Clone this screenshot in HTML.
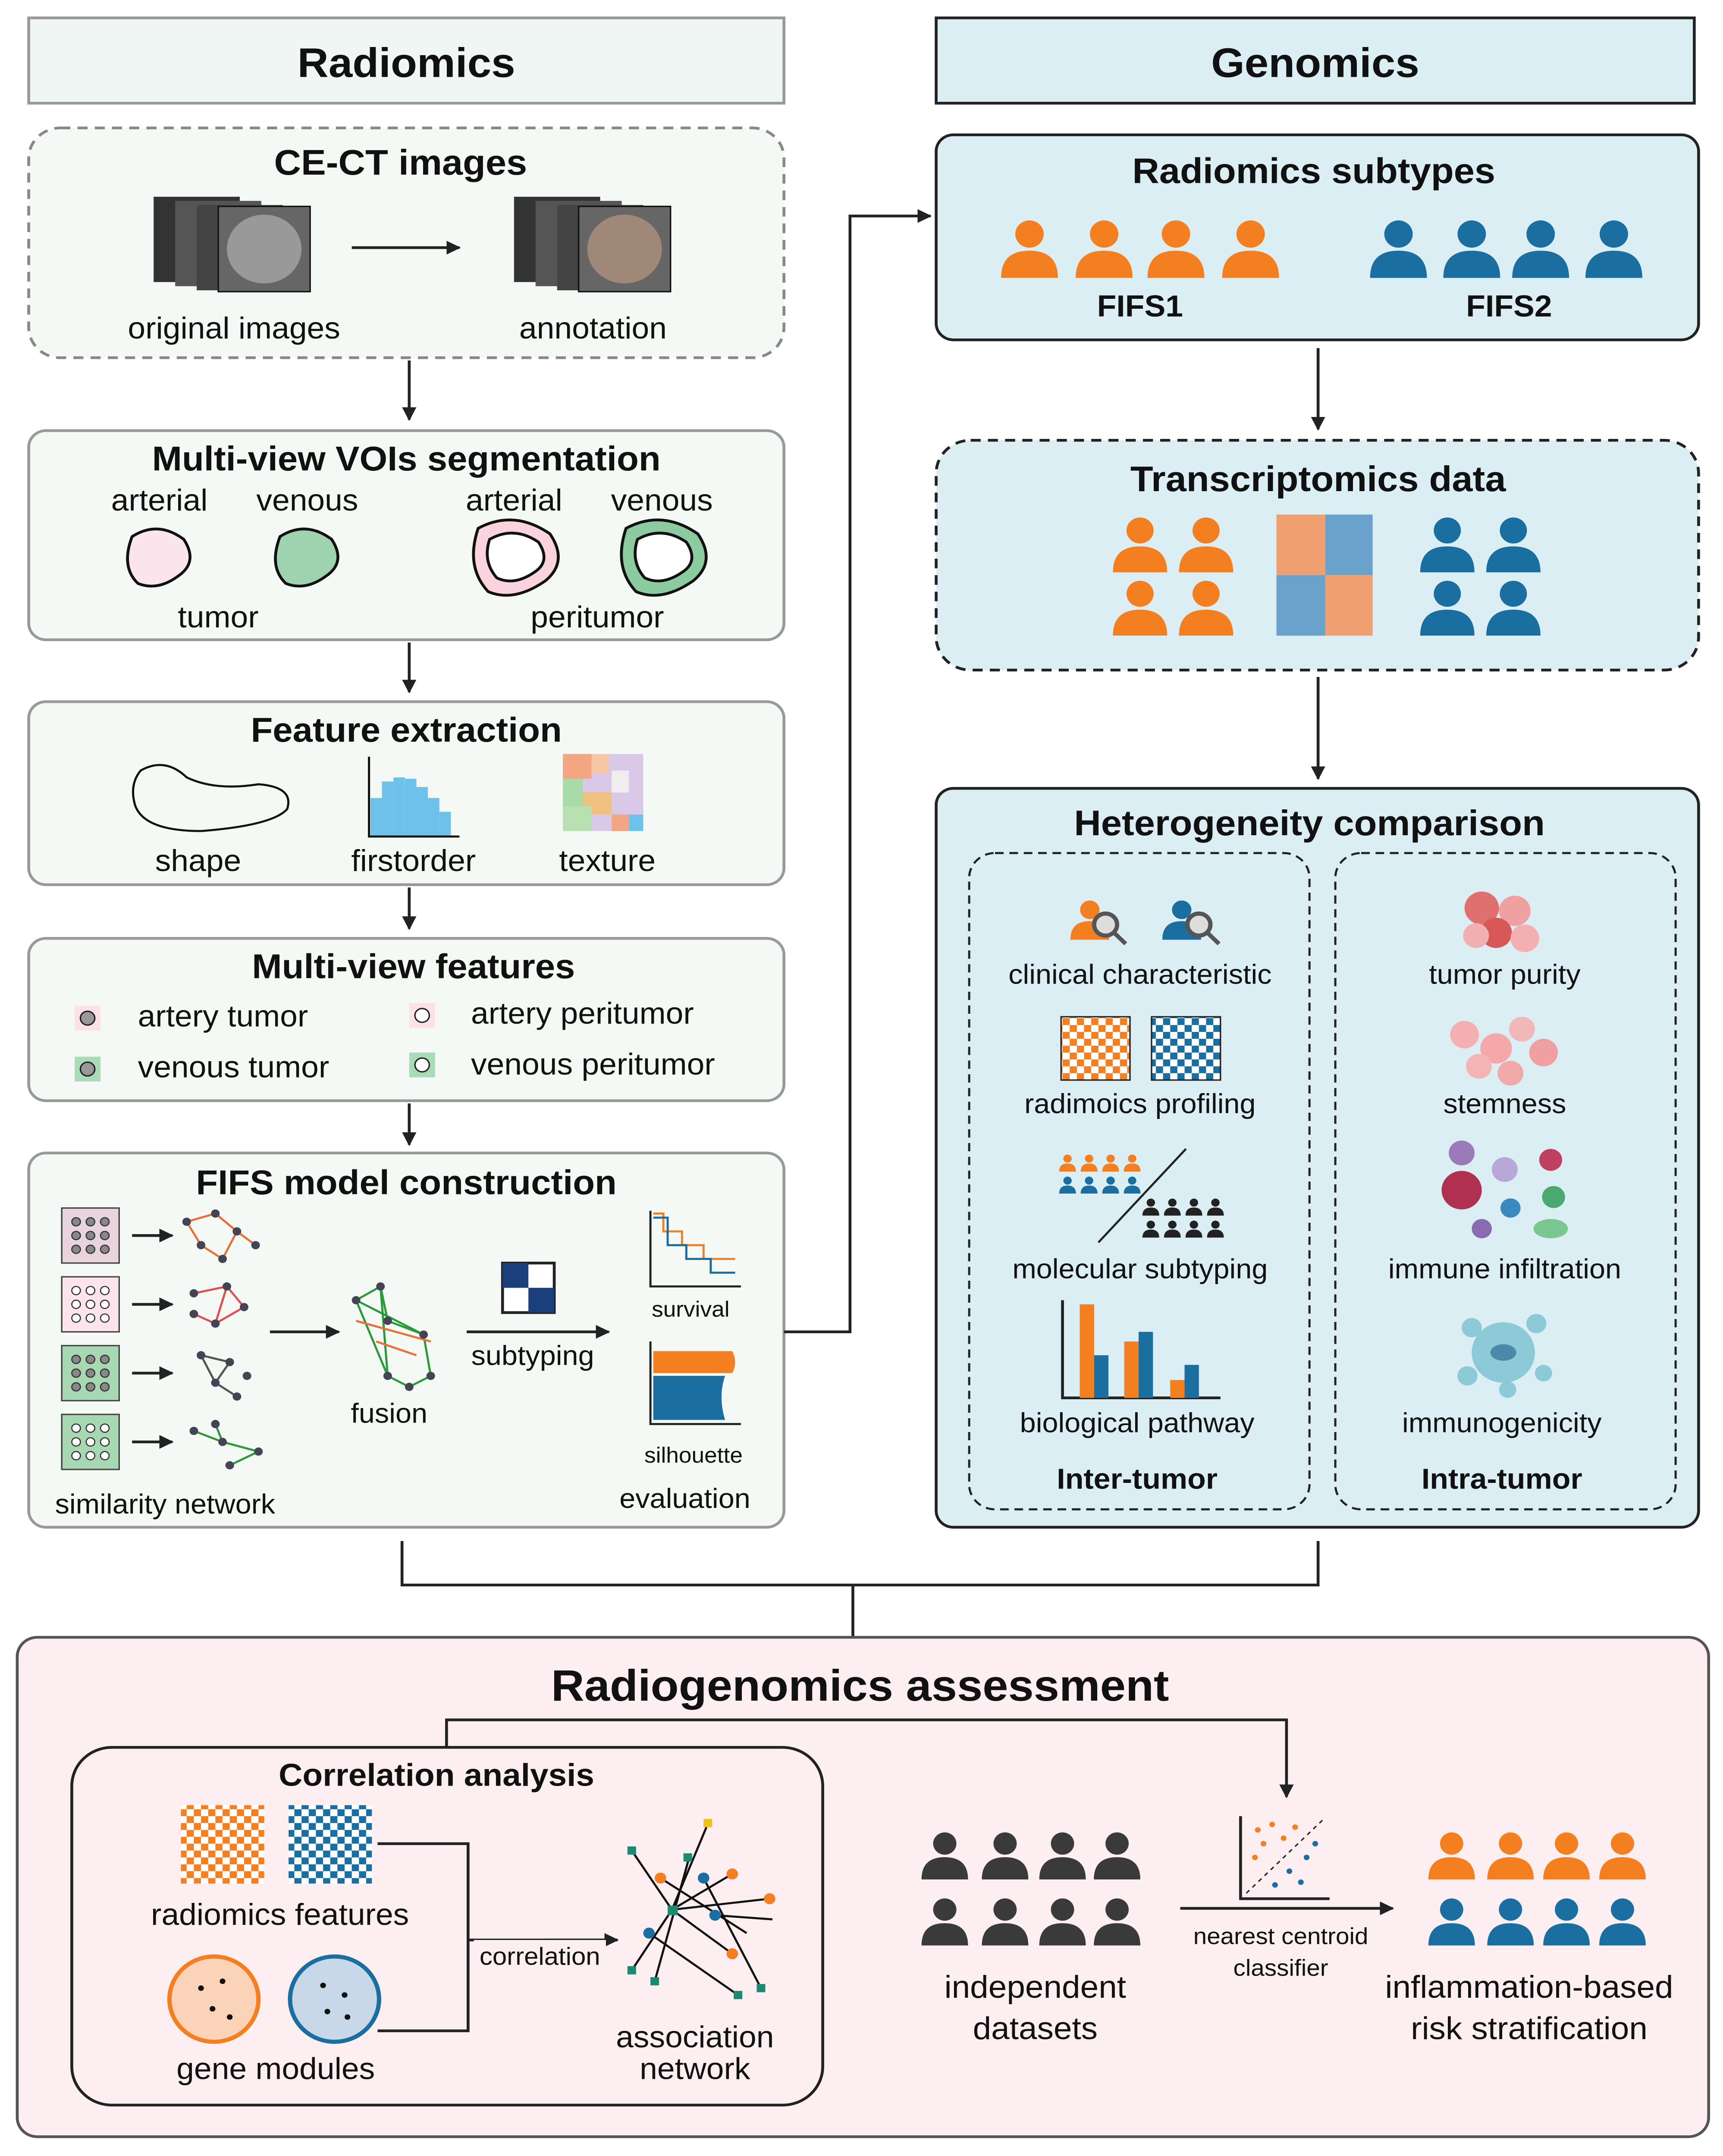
<!DOCTYPE html>
<html><head><meta charset="utf-8"><style>
html,body{margin:0;padding:0;background:#fff;width:100vw;height:100vh;overflow:hidden}
svg{display:block;position:absolute;left:0;top:0;width:100vw;height:100vh}
text{font-family:"Liberation Sans",sans-serif;fill:#111}
.h{font-weight:bold}
</style></head><body>
<svg viewBox="0 0 1200 1567" preserveAspectRatio="none" xmlns="http://www.w3.org/2000/svg">
<defs>
<marker id="ar" markerWidth="10" markerHeight="10" refX="9" refY="5" orient="auto" markerUnits="userSpaceOnUse"><path d="M0,0 L10,5 L0,10 Z" fill="#222"/></marker>
<symbol id="p" viewBox="0 0 40 40"><circle cx="20" cy="11" r="9"/><path d="M2,40 Q2,22 20,22 Q38,22 38,40 Z"/></symbol>
<pattern id="chkO" width="10" height="10" patternUnits="userSpaceOnUse"><rect width="10" height="10" fill="#fff"/><rect width="5" height="5" fill="#f47f20"/><rect x="5" y="5" width="5" height="5" fill="#f47f20"/></pattern>
<pattern id="chkB" width="10" height="10" patternUnits="userSpaceOnUse"><rect width="10" height="10" fill="#fff"/><rect width="5" height="5" fill="#1a6fa0"/><rect x="5" y="5" width="5" height="5" fill="#1a6fa0"/></pattern>
</defs>

<rect x="20" y="13" width="526" height="62" fill="#f0f6f3" stroke="#999" stroke-width="2"/>
<text x="283" y="56" font-size="30" text-anchor="middle" class="h">Radiomics</text>
<rect x="652" y="13" width="528" height="62" fill="#daeef3" stroke="#222" stroke-width="2"/>
<text x="916" y="56" font-size="30" text-anchor="middle" class="h">Genomics</text>

<rect x="20" y="93" width="526" height="167" rx="22" fill="#f4f9f6" stroke="#888" stroke-width="2" stroke-dasharray="7,5"/>
<text x="279" y="127" font-size="26" text-anchor="middle" class="h">CE-CT images</text>
<g><rect x="107" y="143" width="60" height="62" fill="#333"/><rect x="122" y="146" width="60" height="62" fill="#555"/><rect x="137" y="149" width="60" height="62" fill="#444"/><rect x="152" y="150" width="64" height="62" fill="#666" stroke="#111"/><ellipse cx="184" cy="181" rx="26" ry="25" fill="#999"/></g>
<line x1="245" y1="180" x2="320" y2="180" stroke="#222" stroke-width="2" marker-end="url(#ar)"/>
<g><rect x="358" y="143" width="60" height="62" fill="#333"/><rect x="373" y="146" width="60" height="62" fill="#555"/><rect x="388" y="149" width="60" height="62" fill="#444"/><rect x="403" y="150" width="64" height="62" fill="#666" stroke="#111"/><ellipse cx="435" cy="181" rx="26" ry="25" fill="#a08878"/></g>
<text x="163" y="246" font-size="22" text-anchor="middle">original images</text>
<text x="413" y="246" font-size="22" text-anchor="middle">annotation</text>
<line x1="285" y1="262" x2="285" y2="305" stroke="#222" stroke-width="2" marker-end="url(#ar)"/>

<rect x="20" y="313" width="526" height="152" rx="12" fill="#f4f9f6" stroke="#999" stroke-width="2"/>
<text x="283" y="342" font-size="25" text-anchor="middle" class="h">Multi-view VOIs segmentation</text>
<text x="111" y="371" font-size="22" text-anchor="middle">arterial</text>
<text x="214" y="371" font-size="22" text-anchor="middle">venous</text>
<text x="358" y="371" font-size="22" text-anchor="middle">arterial</text>
<text x="461" y="371" font-size="22" text-anchor="middle">venous</text>
<path d="M92,390 Q110,378 128,392 Q138,408 125,418 Q110,430 96,424 Q84,412 92,390Z" fill="#fce4ec" stroke="#111" stroke-width="2"/>
<path d="M195,390 Q213,378 231,392 Q241,408 228,418 Q213,430 199,424 Q187,412 195,390Z" fill="#9fd3b0" stroke="#111" stroke-width="2"/>
<path d="M333,384 Q358,370 383,388 Q396,408 380,422 Q358,438 340,430 Q324,412 333,384Z" fill="#fbd3df" stroke="#111" stroke-width="2"/>
<path d="M341,392 Q358,382 375,394 Q384,408 372,416 Q358,426 346,420 Q336,408 341,392Z" fill="#fff" stroke="#111" stroke-width="2"/>
<path d="M436,384 Q461,370 486,388 Q499,408 483,422 Q461,438 443,430 Q427,412 436,384Z" fill="#8ccaa0" stroke="#111" stroke-width="2"/>
<path d="M444,392 Q461,382 478,394 Q487,408 475,416 Q461,426 449,420 Q439,408 444,392Z" fill="#fff" stroke="#111" stroke-width="2"/>
<text x="152" y="456" font-size="22" text-anchor="middle">tumor</text>
<text x="416" y="456" font-size="22" text-anchor="middle">peritumor</text>
<line x1="285" y1="467" x2="285" y2="503" stroke="#222" stroke-width="2" marker-end="url(#ar)"/>

<rect x="20" y="510" width="526" height="133" rx="12" fill="#f4f9f6" stroke="#999" stroke-width="2"/>
<text x="283" y="539" font-size="25" text-anchor="middle" class="h">Feature extraction</text>
<path d="M98,560 Q115,550 130,565 Q150,575 180,570 Q205,572 200,588 Q190,600 140,604 Q100,604 94,585 Q90,570 98,560Z" fill="none" stroke="#111" stroke-width="1.5"/>
<g fill="#6ec1ea"><rect x="258" y="580" width="8" height="28"/><rect x="266" y="568" width="8" height="40"/><rect x="274" y="565" width="8" height="43"/><rect x="282" y="566" width="8" height="42"/><rect x="290" y="572" width="8" height="36"/><rect x="298" y="580" width="8" height="28"/><rect x="306" y="590" width="8" height="18"/></g>
<path d="M257,550 L257,608 L320,608" fill="none" stroke="#111" stroke-width="1.5"/>
<g><rect x="392" y="548" width="56" height="56" fill="#d9c8e8"/><rect x="392" y="548" width="20" height="18" fill="#f4a582"/><rect x="412" y="548" width="12" height="14" fill="#f7c6a4"/><rect x="392" y="566" width="14" height="20" fill="#a8dba8"/><rect x="406" y="576" width="20" height="16" fill="#f0c080"/><rect x="392" y="586" width="20" height="18" fill="#b8e0b0"/><rect x="426" y="560" width="12" height="16" fill="#eee"/><rect x="438" y="592" width="10" height="12" fill="#6ec1ea"/><rect x="426" y="592" width="12" height="12" fill="#f4a582"/></g>
<text x="138" y="633" font-size="22" text-anchor="middle">shape</text>
<text x="288" y="633" font-size="22" text-anchor="middle">firstorder</text>
<text x="423" y="633" font-size="22" text-anchor="middle">texture</text>
<line x1="285" y1="645" x2="285" y2="675" stroke="#222" stroke-width="2" marker-end="url(#ar)"/>

<rect x="20" y="682" width="526" height="118" rx="12" fill="#f4f9f6" stroke="#999" stroke-width="2"/>
<text x="288" y="711" font-size="25" text-anchor="middle" class="h">Multi-view features</text>
<rect x="52" y="731" width="18" height="18" fill="#fde0e8"/><circle cx="61" cy="740" r="5" fill="#999" stroke="#222"/>
<text x="96" y="746" font-size="22">artery tumor</text>
<rect x="285" y="729" width="18" height="18" fill="#fde0e8"/><circle cx="294" cy="738" r="5" fill="#fff" stroke="#222"/>
<text x="328" y="744" font-size="22">artery peritumor</text>
<rect x="52" y="768" width="18" height="18" fill="#a8dbb6"/><circle cx="61" cy="777" r="5" fill="#999" stroke="#222"/>
<text x="96" y="783" font-size="22">venous tumor</text>
<rect x="285" y="765" width="18" height="18" fill="#a8dbb6"/><circle cx="294" cy="774" r="5" fill="#fff" stroke="#222"/>
<text x="328" y="781" font-size="22">venous peritumor</text>
<line x1="285" y1="802" x2="285" y2="832" stroke="#222" stroke-width="2" marker-end="url(#ar)"/>

<rect x="20" y="838" width="526" height="272" rx="12" fill="#f4f9f6" stroke="#999" stroke-width="2"/>
<text x="283" y="868" font-size="25" text-anchor="middle" class="h">FIFS model construction</text>
<g stroke="#444">
<rect x="43" y="878" width="40" height="40" fill="#e8d4dc"/><rect x="43" y="928" width="40" height="40" fill="#fbe4ec"/><rect x="43" y="978" width="40" height="40" fill="#a8d8b2"/><rect x="43" y="1028" width="40" height="40" fill="#a8d8b2"/>
</g>
<g fill="#888" stroke="#333" stroke-width="0.8">
<circle cx="53" cy="888" r="3"/><circle cx="63" cy="888" r="3"/><circle cx="73" cy="888" r="3"/><circle cx="53" cy="898" r="3"/><circle cx="63" cy="898" r="3"/><circle cx="73" cy="898" r="3"/><circle cx="53" cy="908" r="3"/><circle cx="63" cy="908" r="3"/><circle cx="73" cy="908" r="3"/>
<circle cx="53" cy="988" r="3"/><circle cx="63" cy="988" r="3"/><circle cx="73" cy="988" r="3"/><circle cx="53" cy="998" r="3"/><circle cx="63" cy="998" r="3"/><circle cx="73" cy="998" r="3"/><circle cx="53" cy="1008" r="3"/><circle cx="63" cy="1008" r="3"/><circle cx="73" cy="1008" r="3"/>
</g>
<g fill="#fff" stroke="#333" stroke-width="0.8">
<circle cx="53" cy="938" r="3"/><circle cx="63" cy="938" r="3"/><circle cx="73" cy="938" r="3"/><circle cx="53" cy="948" r="3"/><circle cx="63" cy="948" r="3"/><circle cx="73" cy="948" r="3"/><circle cx="53" cy="958" r="3"/><circle cx="63" cy="958" r="3"/><circle cx="73" cy="958" r="3"/>
<circle cx="53" cy="1038" r="3"/><circle cx="63" cy="1038" r="3"/><circle cx="73" cy="1038" r="3"/><circle cx="53" cy="1048" r="3"/><circle cx="63" cy="1048" r="3"/><circle cx="73" cy="1048" r="3"/><circle cx="53" cy="1058" r="3"/><circle cx="63" cy="1058" r="3"/><circle cx="73" cy="1058" r="3"/>
</g>
<g stroke="#222" stroke-width="2"><line x1="92" y1="898" x2="120" y2="898" marker-end="url(#ar)"/><line x1="92" y1="948" x2="120" y2="948" marker-end="url(#ar)"/><line x1="92" y1="998" x2="120" y2="998" marker-end="url(#ar)"/><line x1="92" y1="1048" x2="120" y2="1048" marker-end="url(#ar)"/></g>
<g stroke-width="1.5" fill="#445">
<path d="M130,888 L150,882 L165,895 L155,915 L140,905 Z M165,895 L178,905" stroke="#e8703a" fill="none"/>
<circle cx="130" cy="888" r="3"/><circle cx="150" cy="882" r="3"/><circle cx="165" cy="895" r="3"/><circle cx="155" cy="915" r="3"/><circle cx="140" cy="905" r="3"/><circle cx="178" cy="905" r="3"/>
<path d="M135,940 L158,935 L170,950 L150,962 L135,955 M158,935 L150,962" stroke="#e05050" fill="none"/>
<circle cx="135" cy="940" r="3"/><circle cx="158" cy="935" r="3"/><circle cx="170" cy="950" r="3"/><circle cx="150" cy="962" r="3"/><circle cx="135" cy="955" r="3"/>
<path d="M140,985 L160,990 L150,1005 L165,1015 M140,985 L150,1005" stroke="#555" fill="none"/>
<circle cx="140" cy="985" r="3"/><circle cx="160" cy="990" r="3"/><circle cx="150" cy="1005" r="3"/><circle cx="165" cy="1015" r="3"/><circle cx="172" cy="1000" r="3"/>
<path d="M135,1040 L155,1048 L180,1055 L160,1065 M155,1048 L150,1035" stroke="#2a9a3a" fill="none"/>
<circle cx="135" cy="1040" r="3"/><circle cx="155" cy="1048" r="3"/><circle cx="180" cy="1055" r="3"/><circle cx="160" cy="1065" r="3"/><circle cx="150" cy="1035" r="3"/>
</g>
<line x1="188" y1="968" x2="236" y2="968" stroke="#222" stroke-width="2" marker-end="url(#ar)"/>
<g stroke-width="1.5" fill="#445">
<path d="M248,945 L265,935 L270,960 L295,970 L300,1000 L285,1008 L270,1000 Z M248,945 L295,970 M265,935 L270,1000" stroke="#2a9a3a" fill="none"/>
<path d="M248,960 L300,975 M262,975 L290,985" stroke="#e8703a" fill="none"/>
<circle cx="248" cy="945" r="3"/><circle cx="265" cy="935" r="3"/><circle cx="270" cy="960" r="3"/><circle cx="295" cy="970" r="3"/><circle cx="300" cy="1000" r="3"/><circle cx="285" cy="1008" r="3"/><circle cx="270" cy="1000" r="3"/>
</g>
<text x="271" y="1034" font-size="20" text-anchor="middle">fusion</text>
<rect x="350" y="918" width="36" height="36" fill="#fff" stroke="#222" stroke-width="2"/><rect x="350" y="918" width="18" height="18" fill="#1a3f7a"/><rect x="368" y="936" width="18" height="18" fill="#1a3f7a"/>
<line x1="325" y1="968" x2="424" y2="968" stroke="#222" stroke-width="2" marker-end="url(#ar)"/>
<text x="371" y="992" font-size="20" text-anchor="middle">subtyping</text>
<path d="M453,880 L453,935 L516,935" fill="none" stroke="#222" stroke-width="1.5"/>
<path d="M455,882 L462,882 L462,895 L475,895 L475,905 L490,905 L490,915 L512,915" fill="none" stroke="#f47f20" stroke-width="1.5"/>
<path d="M455,885 L465,885 L465,905 L478,905 L478,915 L495,915 L495,925 L512,925" fill="none" stroke="#1a6fa0" stroke-width="1.5"/>
<text x="481" y="957" font-size="16" text-anchor="middle">survival</text>
<path d="M453,975 L453,1035 L516,1035" fill="none" stroke="#222" stroke-width="1.5"/>
<path d="M455,982 L510,982 Q514,990 510,998 L455,998 Z" fill="#f47f20"/>
<path d="M455,1000 L505,1000 Q500,1015 505,1032 L455,1032 Z" fill="#1a6fa0"/>
<text x="483" y="1063" font-size="16" text-anchor="middle">silhouette</text>
<text x="115" y="1100" font-size="20" text-anchor="middle">similarity network</text>
<text x="477" y="1096" font-size="20" text-anchor="middle">evaluation</text>

<path d="M546,968 L592,968 L592,157 L648,157" fill="none" stroke="#222" stroke-width="2" marker-end="url(#ar)"/>

<rect x="652" y="98" width="531" height="149" rx="12" fill="#daeef3" stroke="#222" stroke-width="2"/>
<text x="915" y="133" font-size="26" text-anchor="middle" class="h">Radiomics subtypes</text>
<g fill="#f47f20"><use href="#p" x="695" y="158" width="44" height="44"/><use href="#p" x="747" y="158" width="44" height="44"/><use href="#p" x="797" y="158" width="44" height="44"/><use href="#p" x="849" y="158" width="44" height="44"/></g>
<g fill="#1a6fa0"><use href="#p" x="952" y="158" width="44" height="44"/><use href="#p" x="1003" y="158" width="44" height="44"/><use href="#p" x="1051" y="158" width="44" height="44"/><use href="#p" x="1102" y="158" width="44" height="44"/></g>
<text x="794" y="230" font-size="22" text-anchor="middle" class="h">FIFS1</text>
<text x="1051" y="230" font-size="22" text-anchor="middle" class="h">FIFS2</text>
<line x1="918" y1="253" x2="918" y2="312" stroke="#222" stroke-width="2" marker-end="url(#ar)"/>

<rect x="652" y="320" width="531" height="167" rx="24" fill="#daeef3" stroke="#222" stroke-width="2" stroke-dasharray="7,5"/>
<text x="918" y="357" font-size="26" text-anchor="middle" class="h">Transcriptomics data</text>
<g fill="#f47f20"><use href="#p" x="773" y="374" width="42" height="42"/><use href="#p" x="819" y="374" width="42" height="42"/><use href="#p" x="773" y="420" width="42" height="42"/><use href="#p" x="819" y="420" width="42" height="42"/></g>
<g fill="#1a6fa0"><use href="#p" x="987" y="374" width="42" height="42"/><use href="#p" x="1033" y="374" width="42" height="42"/><use href="#p" x="987" y="420" width="42" height="42"/><use href="#p" x="1033" y="420" width="42" height="42"/></g>
<rect x="889" y="374" width="34" height="44" fill="#f0a070"/><rect x="923" y="374" width="33" height="44" fill="#6aa2cc"/><rect x="889" y="418" width="34" height="44" fill="#6aa2cc"/><rect x="923" y="418" width="33" height="44" fill="#f0a070"/>
<line x1="918" y1="492" x2="918" y2="566" stroke="#222" stroke-width="2" marker-end="url(#ar)"/>

<rect x="652" y="573" width="531" height="537" rx="12" fill="#daeef3" stroke="#222" stroke-width="2"/>
<text x="912" y="607" font-size="26" text-anchor="middle" class="h">Heterogeneity comparison</text>
<rect x="675" y="620" width="237" height="477" rx="18" fill="none" stroke="#222" stroke-width="1.5" stroke-dasharray="6,4"/>
<rect x="930" y="620" width="237" height="477" rx="18" fill="none" stroke="#222" stroke-width="1.5" stroke-dasharray="6,4"/>
<g fill="#f47f20"><use href="#p" x="744" y="645" width="30" height="46"/></g>
<g fill="#1a6fa0"><use href="#p" x="808" y="645" width="30" height="46"/></g>
<circle cx="770" cy="672" r="8" fill="#ddd" stroke="#555" stroke-width="3"/><circle cx="835" cy="672" r="8" fill="#ddd" stroke="#555" stroke-width="3"/>
<line x1="776" y1="678" x2="784" y2="686" stroke="#555" stroke-width="3"/><line x1="841" y1="678" x2="849" y2="686" stroke="#555" stroke-width="3"/>
<text x="794" y="715" font-size="20" text-anchor="middle">clinical characteristic</text>
<rect x="739" y="739" width="48" height="46" fill="url(#chkO)" stroke="#222"/>
<rect x="802" y="739" width="48" height="46" fill="url(#chkB)" stroke="#222"/>
<text x="794" y="809" font-size="20" text-anchor="middle">radimoics profiling</text>
<g fill="#f47f20"><use href="#p" x="737" y="838" width="13" height="14"/><use href="#p" x="752" y="838" width="13" height="14"/><use href="#p" x="767" y="838" width="13" height="14"/><use href="#p" x="782" y="838" width="13" height="14"/></g>
<g fill="#1a6fa0"><use href="#p" x="737" y="854" width="13" height="14"/><use href="#p" x="752" y="854" width="13" height="14"/><use href="#p" x="767" y="854" width="13" height="14"/><use href="#p" x="782" y="854" width="13" height="14"/></g>
<line x1="765" y1="903" x2="826" y2="835" stroke="#222" stroke-width="1.5"/>
<g fill="#222"><use href="#p" x="795" y="870" width="13" height="14"/><use href="#p" x="810" y="870" width="13" height="14"/><use href="#p" x="825" y="870" width="13" height="14"/><use href="#p" x="840" y="870" width="13" height="14"/><use href="#p" x="795" y="886" width="13" height="14"/><use href="#p" x="810" y="886" width="13" height="14"/><use href="#p" x="825" y="886" width="13" height="14"/><use href="#p" x="840" y="886" width="13" height="14"/></g>
<text x="794" y="929" font-size="20" text-anchor="middle">molecular subtyping</text>
<path d="M740,945 L740,1016 L850,1016" fill="none" stroke="#222" stroke-width="2"/>
<rect x="752" y="948" width="10" height="68" fill="#f47f20"/><rect x="762" y="985" width="10" height="31" fill="#1a6fa0"/>
<rect x="783" y="975" width="10" height="41" fill="#f47f20"/><rect x="793" y="968" width="10" height="48" fill="#1a6fa0"/>
<rect x="815" y="1003" width="10" height="13" fill="#f47f20"/><rect x="825" y="992" width="10" height="24" fill="#1a6fa0"/>
<text x="792" y="1041" font-size="20" text-anchor="middle">biological pathway</text>
<text x="792" y="1082" font-size="21" text-anchor="middle" class="h">Inter-tumor</text>
<g><circle cx="1032" cy="660" r="12" fill="#e07070"/><circle cx="1055" cy="662" r="11" fill="#f0a0a0"/><circle cx="1042" cy="678" r="11" fill="#d85858"/><circle cx="1062" cy="682" r="10" fill="#f4b0b0"/><circle cx="1028" cy="680" r="9" fill="#f0b0b0"/></g>
<text x="1048" y="715" font-size="20" text-anchor="middle">tumor purity</text>
<g><circle cx="1020" cy="752" r="10" fill="#f4b0b0"/><circle cx="1042" cy="762" r="11" fill="#f4a8a8"/><circle cx="1060" cy="748" r="9" fill="#f0b8b8"/><circle cx="1030" cy="775" r="9" fill="#f4b4b4"/><circle cx="1052" cy="780" r="9" fill="#f0aaaa"/><circle cx="1075" cy="765" r="10" fill="#f0a0a0"/></g>
<text x="1048" y="809" font-size="20" text-anchor="middle">stemness</text>
<g><circle cx="1018" cy="838" r="9" fill="#9a7ab8"/><circle cx="1048" cy="850" r="9" fill="#b8a8d8"/><circle cx="1080" cy="843" r="8" fill="#c04060"/><circle cx="1018" cy="865" r="14" fill="#b03050"/><circle cx="1082" cy="870" r="8" fill="#4aa870"/><circle cx="1052" cy="878" r="7" fill="#3a8ac0"/><circle cx="1032" cy="893" r="7" fill="#8a6ab0"/><ellipse cx="1080" cy="893" rx="12" ry="7" fill="#7ac890"/></g>
<text x="1048" y="929" font-size="20" text-anchor="middle">immune infiltration</text>
<g fill="#8ccad8"><circle cx="1047" cy="983" r="22"/><circle cx="1025" cy="965" r="7"/><circle cx="1070" cy="962" r="7"/><circle cx="1075" cy="998" r="6"/><circle cx="1022" cy="1000" r="7"/><circle cx="1050" cy="1010" r="6"/></g>
<ellipse cx="1047" cy="983" rx="9" ry="6" fill="#4a8aa8"/>
<text x="1046" y="1041" font-size="20" text-anchor="middle">immunogenicity</text>
<text x="1046" y="1082" font-size="21" text-anchor="middle" class="h">Intra-tumor</text>

<path d="M280,1120 L280,1152 L918,1152 L918,1120 M594,1152 L594,1190" fill="none" stroke="#222" stroke-width="2"/>

<rect x="12" y="1190" width="1178" height="363" rx="14" fill="#fdeef2" stroke="#555" stroke-width="2"/>
<text x="599" y="1236" font-size="32" text-anchor="middle" class="h">Radiogenomics assessment</text>
<path d="M311,1270 L311,1250 L896,1250 L896,1306" fill="none" stroke="#222" stroke-width="2" marker-end="url(#ar)"/>
<rect x="50" y="1270" width="523" height="260" rx="28" fill="#fdeef2" stroke="#222" stroke-width="2"/>
<text x="304" y="1298" font-size="23" text-anchor="middle" class="h">Correlation analysis</text>
<rect x="126" y="1312" width="58" height="57" fill="url(#chkO)"/>
<rect x="201" y="1312" width="58" height="57" fill="url(#chkB)"/>
<text x="195" y="1399" font-size="22" text-anchor="middle">radiomics features</text>
<circle cx="149" cy="1453" r="31" fill="#fbd3b8" stroke="#f47f20" stroke-width="3"/>
<circle cx="233" cy="1453" r="31" fill="#c8d8e8" stroke="#1a6fa0" stroke-width="3"/>
<g fill="#111"><circle cx="140" cy="1445" r="2"/><circle cx="155" cy="1440" r="2"/><circle cx="148" cy="1460" r="2"/><circle cx="160" cy="1466" r="2"/><circle cx="225" cy="1443" r="2"/><circle cx="240" cy="1450" r="2"/><circle cx="228" cy="1462" r="2"/><circle cx="242" cy="1466" r="2"/></g>
<text x="192" y="1511" font-size="22" text-anchor="middle">gene modules</text>
<path d="M263,1340 L326,1340 L326,1476 L263,1476 M326,1410 L430,1410" fill="none" stroke="#222" stroke-width="2"/>
<line x1="380" y1="1410" x2="430" y2="1410" stroke="#222" stroke-width="2" marker-end="url(#ar)"/>
<rect x="330" y="1410" width="92" height="22" fill="#fdeef2"/>
<text x="376" y="1428" font-size="18" text-anchor="middle">correlation</text>
<g stroke="#111" stroke-width="1.5">
<line x1="468" y1="1388" x2="492" y2="1328"/><line x1="468" y1="1388" x2="440" y2="1345"/><line x1="468" y1="1388" x2="510" y2="1362"/><line x1="468" y1="1388" x2="440" y2="1432"/><line x1="468" y1="1388" x2="510" y2="1420"/><line x1="468" y1="1388" x2="536" y2="1380"/><line x1="490" y1="1365" x2="530" y2="1445"/><line x1="452" y1="1405" x2="514" y2="1450"/><line x1="480" y1="1350" x2="456" y2="1440"/><line x1="498" y1="1392" x2="538" y2="1395"/><line x1="460" y1="1365" x2="520" y2="1405"/>
</g>
<g fill="#1a8a70"><rect x="465" y="1385" width="7" height="7"/><rect x="437" y="1342" width="6" height="6"/><rect x="437" y="1429" width="6" height="6"/><rect x="453" y="1437" width="6" height="6"/><rect x="511" y="1447" width="6" height="6"/><rect x="527" y="1442" width="6" height="6"/><rect x="476" y="1347" width="6" height="6"/></g>
<g fill="#f47f20"><circle cx="510" cy="1362" r="4"/><circle cx="510" cy="1420" r="4"/><circle cx="536" cy="1380" r="4"/><circle cx="460" cy="1365" r="4"/></g>
<g fill="#1a6fa0"><circle cx="490" cy="1365" r="4"/><circle cx="452" cy="1405" r="4"/><circle cx="498" cy="1392" r="4"/></g>
<rect x="490" y="1322" width="6" height="6" fill="#f0c020"/>
<text x="484" y="1488" font-size="22" text-anchor="middle">association</text>
<text x="484" y="1511" font-size="22" text-anchor="middle">network</text>
<g fill="#3a3a3a">
<use href="#p" x="640" y="1328" width="36" height="40"/><use href="#p" x="682" y="1328" width="36" height="40"/><use href="#p" x="722" y="1328" width="36" height="40"/><use href="#p" x="760" y="1328" width="36" height="40"/>
<use href="#p" x="640" y="1376" width="36" height="40"/><use href="#p" x="682" y="1376" width="36" height="40"/><use href="#p" x="722" y="1376" width="36" height="40"/><use href="#p" x="760" y="1376" width="36" height="40"/>
</g>
<text x="721" y="1452" font-size="23" text-anchor="middle">independent</text>
<text x="721" y="1482" font-size="23" text-anchor="middle">datasets</text>
<path d="M864,1320 L864,1380 L926,1380" fill="none" stroke="#222" stroke-width="2"/>
<line x1="868" y1="1376" x2="922" y2="1322" stroke="#222" stroke-dasharray="3,3"/>
<g fill="#f47f20"><circle cx="876" cy="1330" r="2"/><circle cx="886" cy="1326" r="2"/><circle cx="880" cy="1340" r="2"/><circle cx="894" cy="1336" r="2"/><circle cx="902" cy="1328" r="2"/><circle cx="874" cy="1350" r="2"/></g>
<g fill="#1a6fa0"><circle cx="898" cy="1360" r="2"/><circle cx="910" cy="1350" r="2"/><circle cx="916" cy="1340" r="2"/><circle cx="906" cy="1368" r="2"/><circle cx="888" cy="1370" r="2"/></g>
<line x1="822" y1="1387" x2="970" y2="1387" stroke="#222" stroke-width="2" marker-end="url(#ar)"/>
<text x="892" y="1413" font-size="17" text-anchor="middle">nearest centroid</text>
<text x="892" y="1436" font-size="17" text-anchor="middle">classifier</text>
<g fill="#f47f20"><use href="#p" x="993" y="1328" width="36" height="40"/><use href="#p" x="1034" y="1328" width="36" height="40"/><use href="#p" x="1073" y="1328" width="36" height="40"/><use href="#p" x="1112" y="1328" width="36" height="40"/></g>
<g fill="#1a6fa0"><use href="#p" x="993" y="1376" width="36" height="40"/><use href="#p" x="1034" y="1376" width="36" height="40"/><use href="#p" x="1073" y="1376" width="36" height="40"/><use href="#p" x="1112" y="1376" width="36" height="40"/></g>
<text x="1065" y="1452" font-size="23" text-anchor="middle">inflammation-based</text>
<text x="1065" y="1482" font-size="23" text-anchor="middle">risk stratification</text>
</svg>
</body></html>
